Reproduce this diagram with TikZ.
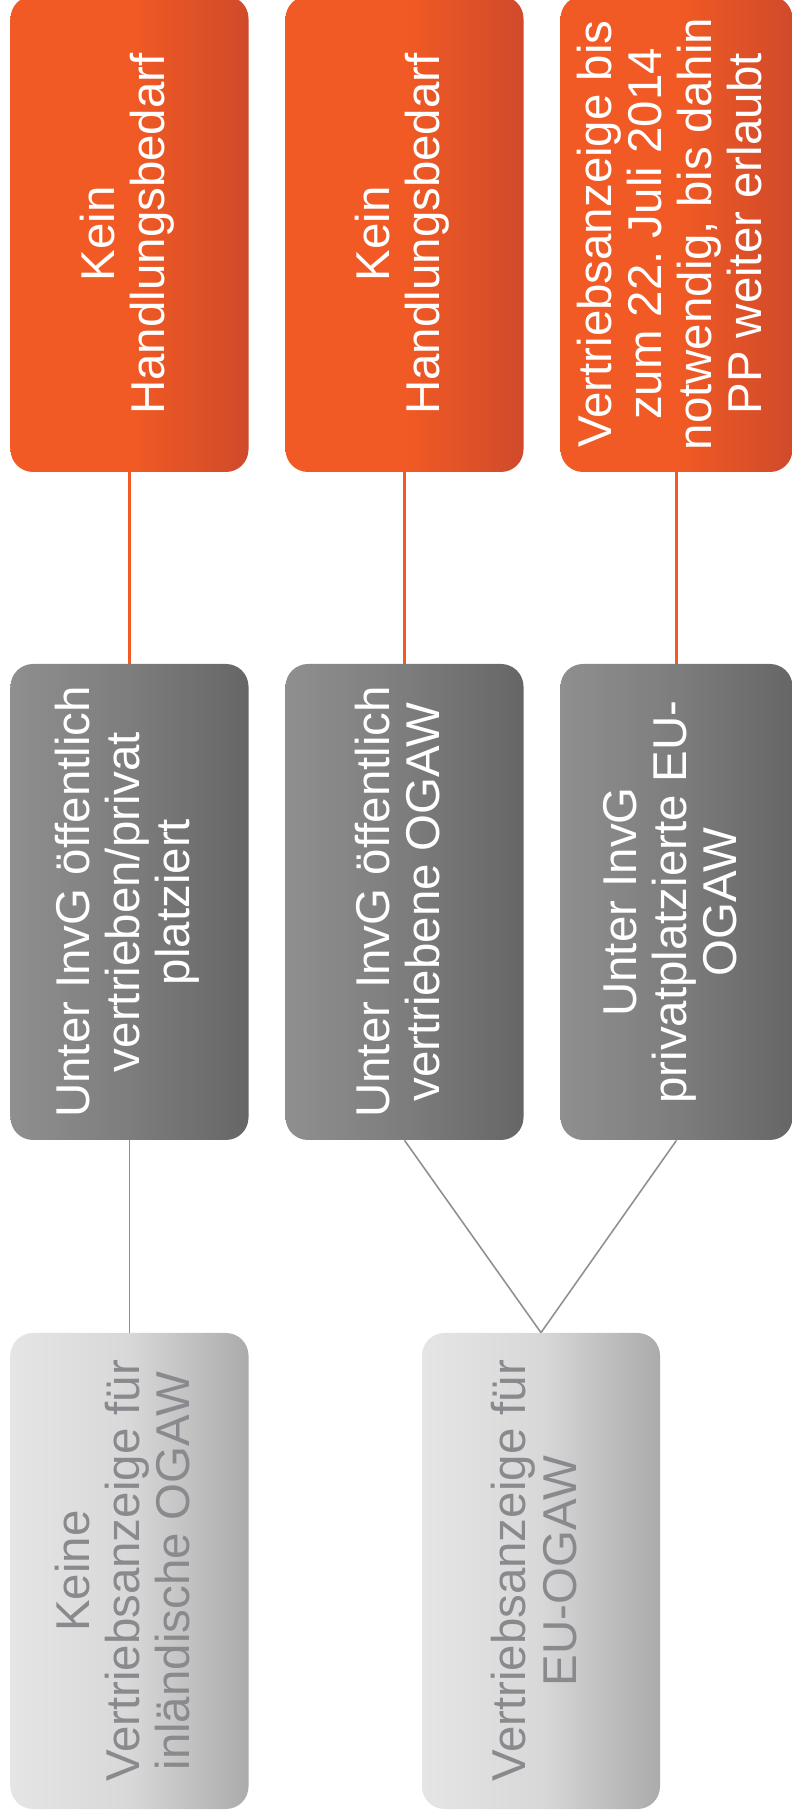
\documentclass[tikz,border=0pt]{standalone}
\usepackage{fontspec}
\setmainfont{Liberation Sans}
\usepackage{tikz}
\usetikzlibrary{positioning}
\frenchspacing

\definecolor{ogaworange}{HTML}{F15A24}
\definecolor{ogaworangedark}{HTML}{D04A2B}
\definecolor{ogawgray}{HTML}{8F8F8F}
\definecolor{ogawgraymid}{HTML}{7D7D7D}
\definecolor{ogawgraydark}{HTML}{666666}
\definecolor{ogawlight}{HTML}{E5E5E5}
\definecolor{ogawlightmid}{HTML}{D8D8D8}
\definecolor{ogawlightdark}{HTML}{ABABAB}
\definecolor{ogawtext}{HTML}{888A8D}
\definecolor{ogawline}{HTML}{909090}

\newcommand{\sidetext}[1]{\rotatebox{90}{\begin{tabular}{@{}c@{}}#1\end{tabular}}}

\begin{document}
\begin{tikzpicture}[
  every node/.style={font=\fontsize{27}{28.5}\selectfont},
  box/.style={rounded corners=0.45cm, minimum width=4.76cm,
    minimum height=9.52cm, inner sep=0pt},
  orangebox/.style={box, left color=ogaworange, right color=ogaworangedark,
    middle color=ogaworange, text=white},
  graybox/.style={box, left color=ogawgray, right color=ogawgraydark,
    middle color=ogawgraymid, text=white},
  lightbox/.style={box, left color=ogawlight, right color=ogawlightdark,
    middle color=ogawlightmid, text=ogawtext},
  orangeline/.style={ogaworange, line width=1.2pt},
  grayline/.style={ogawline, line width=0.9pt}
]
\useasboundingbox (0,0) rectangle (15.86,36.36);

%% ── TOP ROW: Handlungsbedarf ────────────────────────────────
\node[orangebox] (kein1) at (2.59, 31.68)
  {\sidetext{Kein\\Handlungsbedarf}};
\node[orangebox] (kein2) at (8.09, 31.68)
  {\sidetext{Kein\\Handlungsbedarf}};
\node[orangebox, minimum width=4.64cm] (anzeige3) at (13.53, 31.68)
  {\sidetext{Vertriebsanzeige bis\\zum 22. Juli 2014\\notwendig, bis dahin\\PP weiter erlaubt}};

%% ── MIDDLE ROW: Status unter InvG ───────────────────────────
\node[graybox] (oeff1) at (2.59, 18.32)
  {\sidetext{Unter InvG öffentlich\\vertrieben/privat\\platziert}};
\node[graybox] (oeff2) at (8.09, 18.32)
  {\sidetext{Unter InvG öffentlich\\vertriebene OGAW}};
\node[graybox, minimum width=4.64cm] (priv3) at (13.53, 18.32)
  {\sidetext{Unter InvG\\privatplatzierte EU-\\OGAW}};

%% ── BOTTOM ROW: Vertriebsanzeige ────────────────────────────
\node[lightbox] (keine) at (2.59, 4.94)
  {\sidetext{Keine\\Vertriebsanzeige für\\inländische OGAW}};
\node[lightbox] (euogaw) at (10.82, 4.94)
  {\sidetext{Vertriebsanzeige für\\EU-OGAW}};

%% Connecting lines
\draw[orangeline] (kein1) -- (oeff1);
\draw[orangeline] (kein2) -- (oeff2);
\draw[orangeline] (anzeige3) -- (priv3);
\draw[grayline] (oeff1) -- (keine);
\draw[grayline] (oeff2.south) -- (euogaw.north);
\draw[grayline] (priv3.south) -- (euogaw.north);

\end{tikzpicture}
\end{document}
